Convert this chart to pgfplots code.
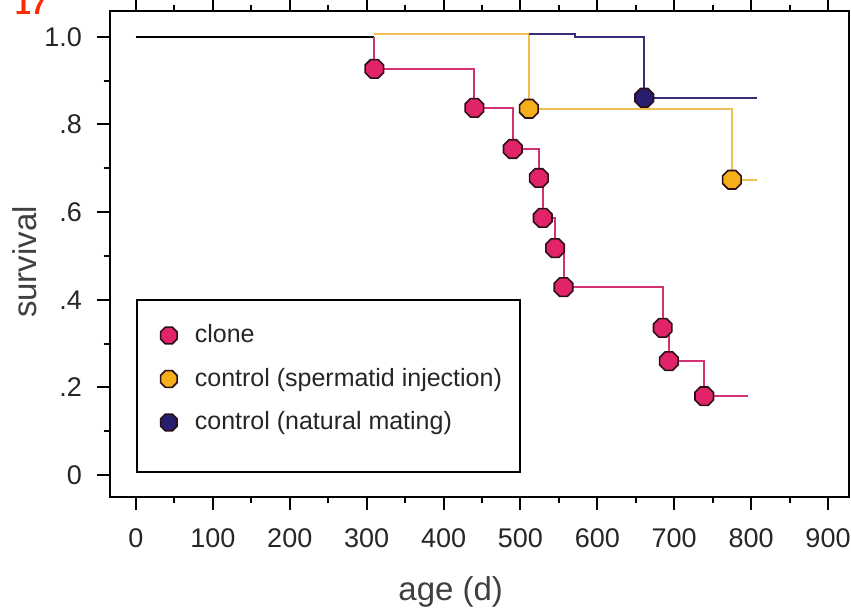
\documentclass[border=0pt]{standalone}
\usepackage{fontspec}
\setmainfont{Liberation Sans}
\usepackage{pgfplots}
\pgfplotsset{compat=1.18}
\definecolor{clonefill}{RGB}{225,35,105}
\definecolor{cloneline}{RGB}{210,50,115}
\definecolor{yelfill}{RGB}{245,175,25}
\definecolor{yelline}{RGB}{238,190,80}
\definecolor{navfill}{RGB}{40,30,110}
\definecolor{navline}{RGB}{55,45,120}
\definecolor{mkborder}{RGB}{45,15,25}
\definecolor{redlabel}{RGB}{255,40,10}
\pgfdeclareplotmark{oct}{%
  \pgfpathmoveto{\pgfpointpolar{22.5}{\pgfplotmarksize}}%
  \pgfpathlineto{\pgfpointpolar{67.5}{\pgfplotmarksize}}%
  \pgfpathlineto{\pgfpointpolar{112.5}{\pgfplotmarksize}}%
  \pgfpathlineto{\pgfpointpolar{157.5}{\pgfplotmarksize}}%
  \pgfpathlineto{\pgfpointpolar{202.5}{\pgfplotmarksize}}%
  \pgfpathlineto{\pgfpointpolar{247.5}{\pgfplotmarksize}}%
  \pgfpathlineto{\pgfpointpolar{292.5}{\pgfplotmarksize}}%
  \pgfpathlineto{\pgfpointpolar{337.5}{\pgfplotmarksize}}%
  \pgfpathclose\pgfusepathqfillstroke}
\pgfplotsset{
  legoct/.style={legend image code/.code={%
    \path (0pt,0pt) (19pt,0pt);
    \path[mark=oct, mark size=4.5pt, mark options={fill=#1, draw=mkborder, line width=0.8pt}]
      plot coordinates {(8.5pt,3.6pt)};}},
}
\begin{document}
\begin{tikzpicture}
\begin{axis}[
  at={(0,0)}, anchor=south west,
  scale only axis, width=369.5pt, height=243pt,
  xmin=-33.8, xmax=927.3, ymin=-0.050, ymax=1.059,
  axis line style={line width=1pt, black},
  xtick={0,100,...,900}, minor x tick num=1,
  ytick={0,0.2,0.4,0.6,0.8,1.0}, yticklabels={0,.2,.4,.6,.8,1.0},
  minor y tick num=1,
  xtick pos=both, ytick pos=left, xticklabel pos=lower,
  tick align=outside,
  major tick length=6.5pt, minor tick length=3.2pt,
  every tick/.style={black, line width=1pt},
  /pgf/number format/assume math mode=true,
  tick label style={font=\fontsize{13.5}{16}\selectfont, text=black!85},
  yticklabel style={xshift=-4pt},
  xticklabel style={yshift=-6pt},
  xlabel={age (d)},
  xlabel style={at={(axis description cs:0.461,-0.195)}, anchor=center, font=\fontsize{16.5}{19}\selectfont, text=black!75},
  ylabel={survival},
  ylabel style={at={(axis description cs:-0.116,0.4835)}, anchor=center, font=\fontsize{16.5}{19}\selectfont, text=black!75},
  legend cell align=left,
  legend style={at={(axis description cs:0.035,0.407)}, anchor=north west,
    draw=black, line width=1pt, inner xsep=7pt, inner ysep=11pt, row sep=1.25pt,
    font=\fontsize{12.5}{15}\selectfont, text=black!85,
    nodes={inner ysep=0pt, text height=10.2pt, text depth=10.3pt}},
]
% black common start
\addplot[forget plot, black, line width=1pt] coordinates {(0,1.0) (310,1.0)};
% clone step line
\addplot[forget plot, const plot, cloneline, line width=1pt] coordinates {
 (310,1.0) (310,0.927) (440,0.838) (490,0.744) (524,0.678) (529,0.587)
 (545,0.518) (556,0.429) (685,0.336) (693,0.260) (739,0.180) (796,0.180)};
% spermatid injection
\addplot[forget plot, const plot, yelline, line width=1pt] coordinates {
 (310,1.007) (511,0.836) (775,0.674) (808,0.674)};
% natural mating
\addplot[forget plot, const plot, navline, line width=1pt] coordinates {
 (511,1.007) (571,1.0) (661,0.861) (808,0.861)};
% markers
\addplot[forget plot, only marks, mark=oct, mark size=5pt,
  mark options={fill=clonefill, draw=mkborder, line width=0.8pt}] coordinates {
 (310,0.927) (440,0.838) (490,0.744) (524,0.678) (529,0.587)
 (545,0.518) (556,0.429) (685,0.336) (693,0.260) (739,0.180)};
\addplot[forget plot, only marks, mark=oct, mark size=5pt,
  mark options={fill=yelfill, draw=mkborder, line width=0.8pt}] coordinates {
 (511,0.836) (775,0.674)};
\addplot[forget plot, only marks, mark=oct, mark size=5pt,
  mark options={fill=navfill, draw=mkborder, line width=0.8pt}] coordinates {
 (661,0.861)};
\addlegendimage{legoct=clonefill}
\addlegendentry{clone}
\addlegendimage{legoct=yelfill}
\addlegendentry{control (spermatid injection)}
\addlegendimage{legoct=navfill}
\addlegendentry{control (natural mating)}
\end{axis}
\node[anchor=base, inner sep=0pt, text=redlabel, font={\fontsize{14.5}{17}\selectfont\bfseries}] at (-39.5pt,241pt) {17};
\pgfresetboundingbox
\useasboundingbox (-55pt,-56pt) rectangle (370.5pt,248.5pt);
\end{tikzpicture}
\end{document}
